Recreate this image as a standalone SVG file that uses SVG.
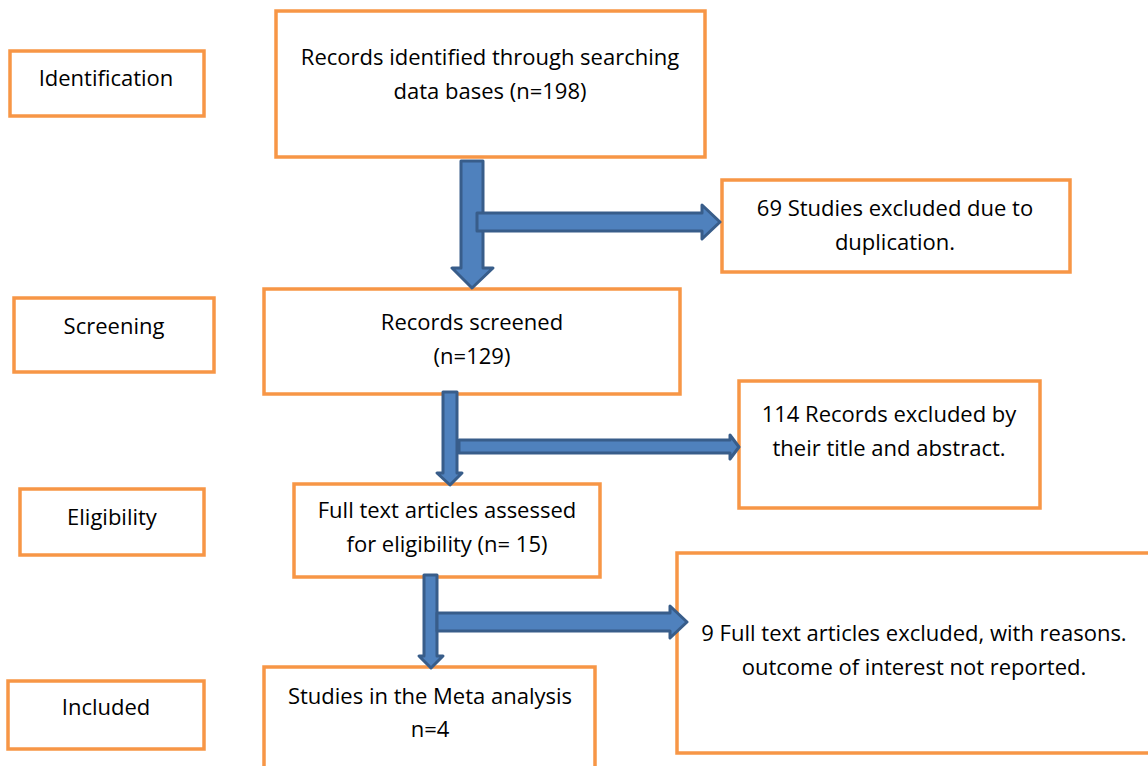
<svg xmlns="http://www.w3.org/2000/svg" width="1148" height="766" viewBox="0 0 1148 766">
<style>
.box{fill:#fff;stroke:#F79646;stroke-width:3.5}
.t{font-family:"Open Sans","Liberation Sans",Arial,sans-serif;font-size:22px;fill:#000;text-anchor:middle}
.ar{fill:#4F81BD;stroke:#385D8A;stroke-width:3;stroke-linejoin:round}
</style>
<rect width="1148" height="766" fill="#fff"/>
<g id="n-identification"><rect class="box" x="10" y="51" width="194" height="65"/><text class="t" x="106" y="86">Identification</text></g>
<g id="n-records"><rect class="box" x="276" y="11" width="429" height="146"/><text class="t" x="490" y="65">Records identified through searching</text><text class="t" x="490" y="99">data bases (n=198)</text></g>
<g id="n-excl1"><rect class="box" x="722" y="180" width="348" height="92"/><text class="t" x="895" y="216">69 Studies excluded due to</text><text class="t" x="895" y="250">duplication.</text></g>
<g id="n-screening"><rect class="box" x="14" y="298" width="200" height="74"/><text class="t" x="114" y="334">Screening</text></g>
<g id="n-screened"><rect class="box" x="264" y="289" width="416" height="105"/><text class="t" x="472" y="330">Records screened</text><text class="t" x="472" y="364">(n=129)</text></g>
<g id="n-excl2"><rect class="box" x="739" y="381" width="301" height="127"/><text class="t" x="889" y="422">114 Records excluded by</text><text class="t" x="889" y="456">their title and abstract.</text></g>
<g id="n-eligibility"><rect class="box" x="20" y="489" width="184" height="66"/><text class="t" x="112" y="525">Eligibility</text></g>
<g id="n-fulltext"><rect class="box" x="294" y="484" width="306" height="93"/><text class="t" x="447" y="518">Full text articles assessed</text><text class="t" x="447" y="552">for eligibility (n= 15)</text></g>
<g id="n-excl3"><rect class="box" x="677" y="553" width="480" height="200"/><text class="t" x="914" y="641">9 Full text articles excluded, with reasons.</text><text class="t" x="914" y="675">outcome of interest not reported.</text></g>
<g id="n-included"><rect class="box" x="8" y="681" width="196" height="68"/><text class="t" x="106" y="715">Included</text></g>
<g id="n-studies"><rect class="box" x="264" y="667" width="331" height="110"/><text class="t" x="430" y="704">Studies in the Meta analysis</text><text class="t" x="430" y="737">n=4</text></g>
<g id="connectors">
<path class="ar" d="M461,161 H483 V268 H493 L472,288 L452,268 H461 Z"/>
<path class="ar" d="M477,213 H702 V205 L720,222 L702,239 V231 H477 Z"/>
<path class="ar" d="M443,392 H457 V473 H462 L450,485 L437,473 H443 Z"/>
<path class="ar" d="M459,440 H730 V435 L739,447 L730,459 V453 H459 Z"/>
<path class="ar" d="M424,575 H437 V656 H443 L431,668 L419,656 H424 Z"/>
<path class="ar" d="M437,613 H670 V606 L687,622 L670,638 V631 H437 Z"/>
</g>
</svg>
